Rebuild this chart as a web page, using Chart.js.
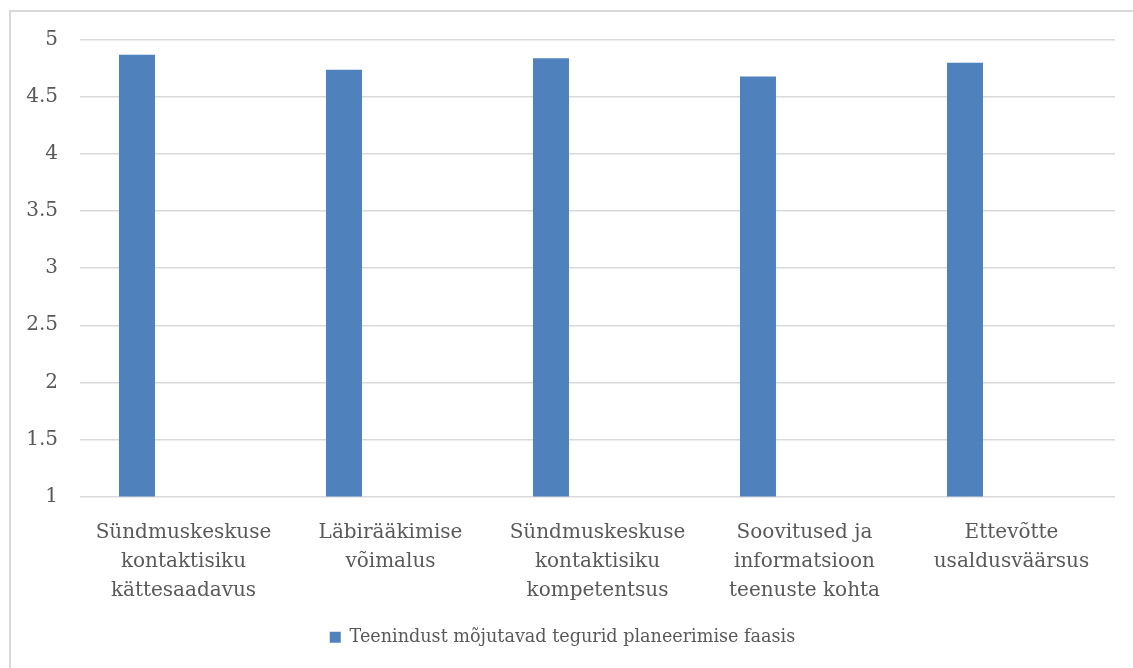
<!DOCTYPE html>
<html>
<head>
<meta charset="utf-8">
<script src="https://cdn.jsdelivr.net/npm/chart.js@4.4.1/dist/chart.umd.min.js"></script>
<style>
    html, body { margin: 0; padding: 0; background: #fff; overflow: hidden; }
    #raam { position: absolute; left: 9px; top: 10px; width: 2000px; height: 2000px;
            border-left: 2px solid #d9d9d9; border-top: 2px solid #d9d9d9; }
    #wrap { position: absolute; left: 0; top: 0; width: 1133px; height: 668px; }
</style>
</head>
<body>
<div id="raam"></div>
<div id="wrap"><canvas id="graafik"></canvas></div>
<script>
const kategooriad = [
    ['Sündmuskeskuse', 'kontaktisiku', 'kättesaadavus'],
    ['Läbirääkimise', 'võimalus'],
    ['Sündmuskeskuse', 'kontaktisiku', 'kompetentsus'],
    ['Soovitused ja', 'informatsioon', 'teenuste kohta'],
    ['Ettevõtte', 'usaldusväärsus']
];
const seeriaNimi = 'Teenindust mõjutavad tegurid planeerimise faasis';
const vaartused = [4.87, 4.74, 4.84, 4.68, 4.80];
const tuhjad = [null, null, null, null, null];
const yTikid = ['1', '1.5', '2', '2.5', '3', '3.5', '4', '4.5', '5'];

const font = 'DejaVu Serif';
const tekst = '#595959';

const ctx = document.getElementById('graafik').getContext('2d');

new Chart(ctx, {
    type: 'bar',
    data: {
        labels: kategooriad,
        datasets: [{
            label: seeriaNimi,
            data: vaartused,
            backgroundColor: '#4f81bd',
            borderWidth: 0,
            categoryPercentage: 0.899,
            barPercentage: 0.387
        }, {
            label: '',
            data: tuhjad,
            backgroundColor: 'rgba(0,0,0,0)',
            categoryPercentage: 0.899,
            barPercentage: 0.387
        }]
    },
    options: {
        responsive: true,
        maintainAspectRatio: false,
        animation: false,
        layout: {
            padding: { left: 10, top: 40, right: 18, bottom: 12 }
        },
        scales: {
            x: {
                grid: { display: false },
                border: { display: false },
                ticks: {
                    color: tekst,
                    font: { family: font, size: 20, lineHeight: 1.45 },
                    padding: 14,
                    maxRotation: 0,
                    autoSkip: false
                },
                afterFit: (scale) => { scale.height = 122; }
            },
            y: {
                min: 1,
                max: 5,
                border: { display: false },
                grid: { color: '#d9d9d9', lineWidth: 1.5, drawTicks: false },
                ticks: {
                    stepSize: 0.5,
                    color: tekst,
                    font: { family: font, size: 20 },
                    padding: 22,
                    callback: (v, i) => yTikid[i]
                },
                afterFit: (scale) => { scale.width = 70; }
            }
        },
        plugins: {
            tooltip: { enabled: false },
            legend: {
                position: 'bottom',
                labels: {
                    boxWidth: 11,
                    boxHeight: 11,
                    padding: 10,
                    color: tekst,
                    font: { family: font, size: 17.6 },
                    filter: (item) => item.datasetIndex === 0
                }
            }
        }
    }
});
</script>
</body>
</html>
